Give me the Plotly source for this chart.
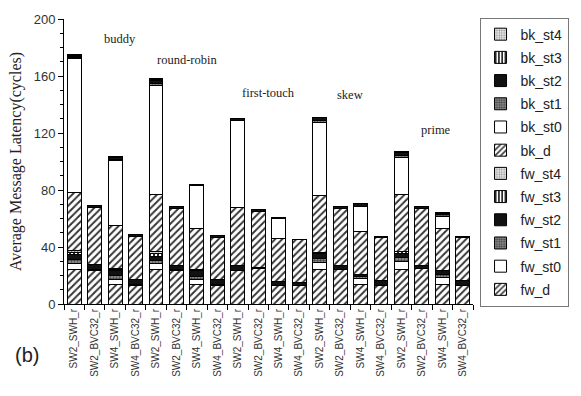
import plotly.graph_objects as go

# Bar labels (five allocation policies x four configurations)
configs = ["SW2_SWH_r", "SW2_BVC32_r", "SW4_SWH_r", "SW4_BVC32_r"]
policies = ["buddy", "round-robin", "first-touch", "skew", "prime"]
bar_labels = configs * len(policies)

# Latency components (cycles), one value per bar
fw_d = [24.0, 23.6, 13.8, 13.3, 24.1, 23.6, 13.8, 13.3, 23.6, 24.6,
        13.3, 13.3, 24.1, 24.1, 14.0, 13.3, 24.1, 24.8, 14.0, 13.3]
fw_st0 = [4.5, 0, 3.4, 0, 4.6, 0, 3.4, 0, 0, 0,
          0, 0, 5.3, 0, 3.9, 0, 6.0, 0, 4.6, 0]
fw_st1 = [2.5, 0.5, 3.0, 0.5, 1.5, 0.4, 1.8, 0.4, 0, 0,
          0, 0, 2.5, 0, 1.5, 0, 2.5, 0, 2.0, 0]
fw_st2 = [3.5, 3.5, 3.5, 3.4, 3.2, 3.1, 4.2, 3.5, 3.5, 1.3,
          2.3, 1.7, 3.5, 3.0, 1.3, 3.0, 3.0, 2.3, 3.0, 3.4]
fw_st3 = [1.5, 0.3, 0.7, 0, 2.0, 0, 0.5, 0, 0, 0,
          0, 0, 0.4, 0, 0, 0, 1.4, 0, 0, 0]
fw_st4 = [1.5, 0, 0.4, 0, 1.6, 0, 0.3, 0, 0, 0,
          0, 0, 0, 0, 0, 0, 0, 0, 0, 0]
bk_d = [41.0, 39.5, 30.6, 30.0, 40.0, 40.2, 29.1, 29.5, 40.9, 39.1,
        30.3, 30.0, 40.2, 40.2, 30.1, 30.4, 40.0, 40.2, 29.5, 30.0]
bk_st0 = [93.5, 0, 45.3, 0, 76.5, 0, 29.9, 0, 60.7, 0,
          14.1, 0, 51.1, 0, 17.7, 0, 26.0, 0, 8.5, 0]
bk_st1 = [0.8, 0.3, 0.8, 0, 1.5, 0, 0.3, 0, 0, 0,
          0, 0, 1.5, 0, 0, 0, 1.5, 0, 1.0, 0]
bk_st2 = [1.2, 1.3, 1.2, 1.3, 2.0, 1.2, 0.7, 1.1, 1.2, 1.2,
          0.5, 0.5, 2.1, 1.2, 2.3, 0.9, 2.0, 1.4, 1.0, 0.9]
bk_st3 = [0.5, 0, 0.4, 0, 0.5, 0, 0, 0, 0, 0,
          0, 0, 0.5, 0, 0, 0, 0.4, 0, 0.3, 0]
bk_st4 = [0.5, 0, 0.3, 0, 0.5, 0, 0, 0, 0, 0,
          0, 0, 0, 0, 0, 0, 0, 0, 0, 0]

# Fill style per component kind
styles = {
    "d": dict(shape="/", fgcolor="#333333", bgcolor="white", size=5, solidity=0.38),
    "st0": dict(shape="", fgcolor="white", bgcolor="white"),
    "st1": dict(shape=".", fgcolor="#444444", bgcolor="#9a9a9a", size=3, solidity=0.5),
    "st2": None,
    "st3": dict(shape="|", fgcolor="#111111", bgcolor="white", size=4, solidity=0.45),
    "st4": dict(shape=".", fgcolor="#888888", bgcolor="#e6e6e6", size=3, solidity=0.3),
}

series = [
    ("fw_d", fw_d, "d"), ("fw_st0", fw_st0, "st0"), ("fw_st1", fw_st1, "st1"),
    ("fw_st2", fw_st2, "st2"), ("fw_st3", fw_st3, "st3"), ("fw_st4", fw_st4, "st4"),
    ("bk_d", bk_d, "d"), ("bk_st0", bk_st0, "st0"), ("bk_st1", bk_st1, "st1"),
    ("bk_st2", bk_st2, "st2"), ("bk_st3", bk_st3, "st3"), ("bk_st4", bk_st4, "st4"),
]

xpos = list(range(len(bar_labels)))

fig = go.Figure()
for i, (name, vals, kind) in enumerate(series):
    st = styles[kind]
    marker = dict(line=dict(color="black", width=1))
    if st is None:
        marker["color"] = "#111111"
    else:
        marker["color"] = st["bgcolor"]
        if st["shape"]:
            marker["pattern"] = dict(shape=st["shape"], fgcolor=st["fgcolor"],
                                     bgcolor=st["bgcolor"], size=st["size"],
                                     solidity=st["solidity"], fillmode="replace")
    # top of the stack is listed first in the legend
    fig.add_trace(go.Bar(x=xpos, y=vals, name=name, marker=marker, width=0.68,
                         legendgroup=name, legendrank=100 - i))

# Policy names above each group of four bars
policy_pos = [(2.23, 186), (5.52, 171), (9.48, 148), (13.48, 147), (17.7, 122)]
for text, (px, py) in zip(policies, policy_pos):
    fig.add_annotation(x=px, y=py, text=text, showarrow=False,
                       font=dict(family="Liberation Serif", size=12.5, color="#222"))

fig.add_annotation(xref="paper", yref="paper", x=-0.125, y=-0.178, text="(b)",
                   showarrow=False, xanchor="left", yanchor="middle",
                   font=dict(family="Liberation Sans", size=20, color="#222"))

fig.update_layout(
    width=581, height=396,
    margin=dict(l=64, r=92, t=14, b=92),
    barmode="stack",
    plot_bgcolor="white", paper_bgcolor="white",
    font=dict(family="Liberation Sans", color="#222"),
    showlegend=True,
    legend=dict(traceorder="grouped", x=1.016, xanchor="left", y=1.005,
                yanchor="top", bordercolor="#777", borderwidth=1, bgcolor="white",
                font=dict(family="Liberation Sans", size=14, color="#222"),
                tracegroupgap=2, maxheight=390),
    bargap=0.32,
)
fig.update_xaxes(
    range=[-0.5, 19.5], tickmode="array", tickvals=xpos, ticktext=bar_labels,
    tickangle=-90, tickfont=dict(size=10, family="Liberation Sans", color="#333"),
    showline=True, linecolor="black", linewidth=1, showgrid=False, zeroline=False,
    ticks="", minor=dict(tick0=-0.5, dtick=1, ticks="outside", ticklen=5,
                         tickcolor="black", showgrid=False),
)
fig.update_yaxes(
    range=[0, 200], tickvals=[0, 40, 80, 120, 160, 200],
    tickfont=dict(size=13, family="Liberation Sans", color="#333"),
    showline=True, linecolor="black", linewidth=1, showgrid=False, zeroline=False,
    ticks="outside", ticklen=5, tickcolor="black",
    minor=dict(dtick=10, ticks="outside", ticklen=3, tickcolor="black", showgrid=False),
    title=dict(text="Average Message Latency(cycles)", standoff=8,
               font=dict(family="Liberation Serif", size=16, color="#222")),
)

fig.write_html("out.html")
